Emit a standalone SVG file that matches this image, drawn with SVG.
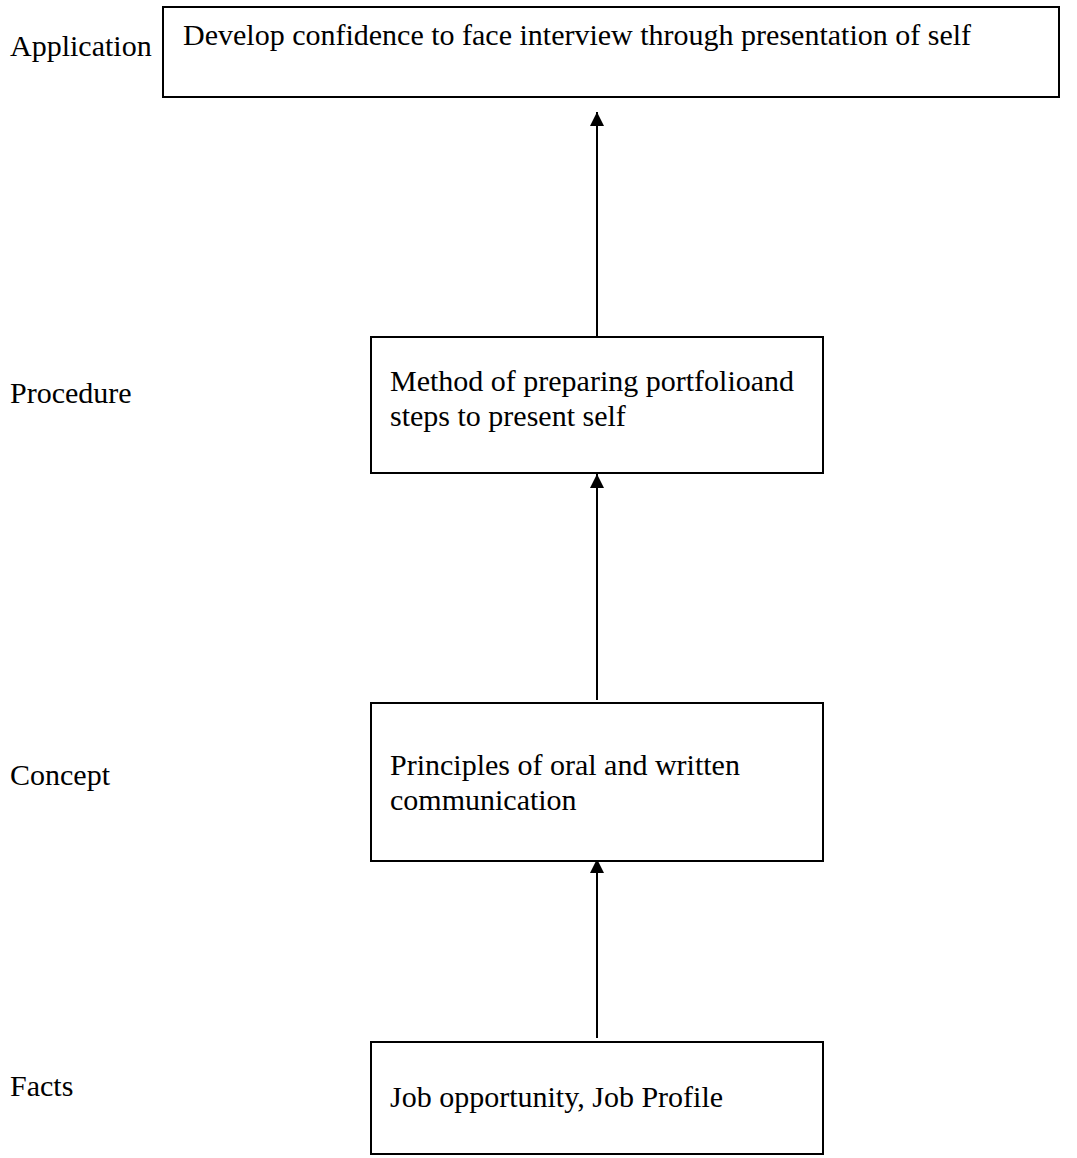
<svg xmlns="http://www.w3.org/2000/svg" width="1077" height="1158" viewBox="0 0 1077 1158">
<style>
text{font-family:"Liberation Serif","Times New Roman",serif;font-size:30px;fill:#000}
.box{fill:#fff;stroke:#000;stroke-width:2}
.conn{stroke:#000;stroke-width:2;fill:none}
</style>
<defs>
<marker id="arr" markerUnits="userSpaceOnUse" markerWidth="14" markerHeight="14" refX="14" refY="7" orient="auto">
<path d="M0,0 L14,7 L0,14 z" fill="#000"/>
</marker>
</defs>
<rect width="1077" height="1158" fill="#fff"/>
<g id="labels">
<text x="10" y="56">Application</text>
<text x="10" y="403">Procedure</text>
<text x="10" y="785">Concept</text>
<text x="10" y="1096">Facts</text>
</g>
<g id="connectors">
<line class="conn" x1="597" y1="337" x2="597" y2="112" marker-end="url(#arr)"/>
<line class="conn" x1="597" y1="700" x2="597" y2="474" marker-end="url(#arr)"/>
<line class="conn" x1="597" y1="1038" x2="597" y2="859" marker-end="url(#arr)"/>
</g>
<g id="node-application">
<rect class="box" x="163" y="7" width="896" height="90"/>
<text x="183" y="45">Develop confidence to face interview through presentation of self</text>
</g>
<g id="node-procedure">
<rect class="box" x="371" y="337" width="452" height="136"/>
<text x="390" y="391">Method of preparing portfolioand</text>
<text x="390" y="426">steps to present self</text>
</g>
<g id="node-concept">
<rect class="box" x="371" y="703" width="452" height="158"/>
<text x="390" y="775">Principles of oral and written</text>
<text x="390" y="810">communication</text>
</g>
<g id="node-facts">
<rect class="box" x="371" y="1042" width="452" height="112"/>
<text x="390" y="1107">Job opportunity, Job Profile</text>
</g>
</svg>
